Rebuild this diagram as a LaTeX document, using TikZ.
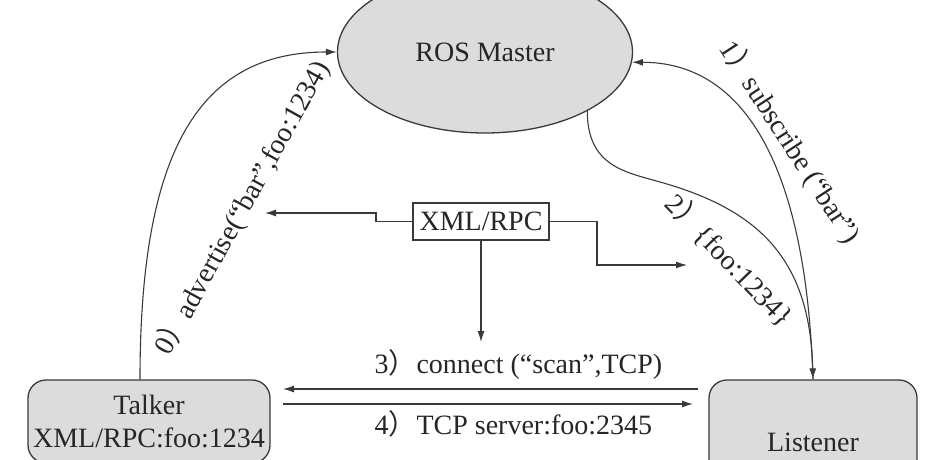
\documentclass[tikz,border=0pt]{standalone}
\usepackage{fontspec}
\setmainfont{Liberation Serif}
\newfontfamily\cjk{Noto Sans CJK SC}
\usetikzlibrary{arrows.meta,shapes.geometric}
\definecolor{boxgray}{HTML}{DCDCDC}
\definecolor{linegray}{HTML}{3A3A3A}
\newcommand{\fwp}{{\cjk ）}}

\begin{document}
\begin{tikzpicture}[x=1pt,y=-1pt,line width=1.1pt,>={Latex[length=11pt,width=7pt]},
    every node/.style={font=\fontsize{28}{33}\selectfont,text=black!85},
    hostbox/.style={draw=linegray,fill=boxgray,rounded corners=18pt,line width=1.3pt,align=center},
    rpcbox/.style={draw=linegray,fill=white,minimum width=136pt,minimum height=37pt,inner sep=0pt},
    lbl/.style={inner sep=0pt}]
    \useasboundingbox (0,0) rectangle (946,460);
    \clip (0,0) rectangle (946,460);
    % nodes
    \node[ellipse,draw=linegray,fill=boxgray,line width=1.3pt,minimum width=295pt,minimum height=162pt] (master) at (485,52) {ROS Master};
    \node[hostbox,minimum width=242pt,minimum height=83pt] (talker) at (149,421.5) {Talker\\XML/RPC:foo:1234};
    \node[hostbox,minimum width=208pt,minimum height=124pt] (listener) at (813,442) {Listener};
    \node[rpcbox] (xmlrpc) at (481,221.5) {XML/RPC};
    % free ends
    \coordinate (advtip) at (265,213);
    \coordinate (subtip) at (687,265);
    \coordinate (contip) at (481,342);
    \coordinate (c3s) at (698,389);
    \coordinate (c3e) at (283,389);
    \coordinate (c4s) at (283,404);
    \coordinate (c4e) at (693,404);
    \coordinate (bend) at (660,182);
    % master connections
    \draw[->,draw=linegray] ([xshift=-9pt]talker.north) .. controls +(0,-230) and +(-137,0) .. (master.west);
    \draw[->,draw=linegray] (listener.north) .. controls +(-7,-220) and +(109,0) .. (master.-4);
    \draw[->,draw=linegray] (master.-30) .. controls +(0,55) and (625,172) .. (bend) .. controls (760,210) and (810,260) .. (listener.north);
    % xml/rpc
    \draw[->,draw=linegray] (xmlrpc.west) -| (376,213) -- (advtip);
    \draw[->,draw=linegray] (xmlrpc.east) -| (597,265) -- (subtip);
    \draw[->,draw=linegray] (xmlrpc.south) -- (contip);
    % tcp
    \draw[->,draw=linegray] (c3s) -- (c3e);
    \draw[->,draw=linegray] (c4s) -- (c4e);
    % labels
    \node[lbl,rotate=61] (advlbl) at (242,208) {0\fwp advertise(“bar”,foo:1234)};
    \node[lbl,rotate=-57] (sublbl) at (790,142) {1\fwp subscribe (“bar”)};
    \node[lbl,rotate=-46] (foolbl) at (730,260) {2\fwp\{foo:1234\}};
    \node[lbl,anchor=west] (conlbl) at (374,364) {3\fwp connect (“scan”,TCP)};
    \node[lbl,anchor=west] (srvlbl) at (374,424) {4\fwp TCP server:foo:2345};
\end{tikzpicture}
\end{document}
